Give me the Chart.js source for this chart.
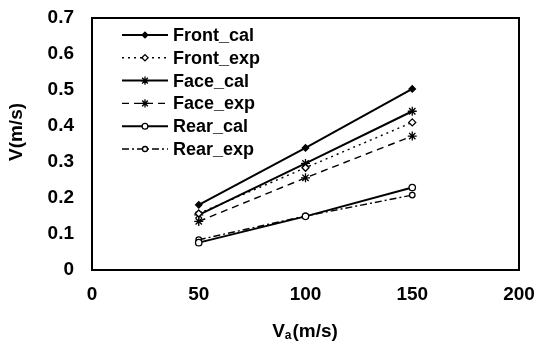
<!DOCTYPE html>
<html>
<head>
<meta charset="utf-8">
<script src="https://cdn.jsdelivr.net/npm/chart.js@4"></script>
<style>
html,body{margin:0;padding:0;background:#fff;}
#wrap{width:540px;height:342px;position:relative;}
</style>
</head>
<body>
<div id="wrap"><canvas id="c" width="540" height="342"></canvas></div>
<script>
const xValues = [50, 100, 150];
const frontCal = [0.181, 0.339, 0.503];
const frontExp = [0.157, 0.284, 0.410];
const faceCal = [0.153, 0.296, 0.441];
const faceExp = [0.135, 0.256, 0.372];
const rearCal = [0.076, 0.149, 0.229];
const rearExp = [0.084, 0.150, 0.208];
const seriesLabels = ['Front_cal', 'Front_exp', 'Face_cal', 'Face_exp', 'Rear_cal', 'Rear_exp'];
const xTicks = [0, 50, 100, 150, 200];
const yTicks = [0, 0.1, 0.2, 0.3, 0.4, 0.5, 0.6, 0.7];

const FONT = "'Liberation Sans', Arial, sans-serif";
const pts = arr => arr.map((v, i) => ({x: xValues[i], y: v}));

const styles = [
  {pointStyle:'rectRot', pointRadius:3.2, pointBackgroundColor:'#000', borderWidth:2, borderDash:[]},
  {pointStyle:'rectRot', pointRadius:3.5, pointBackgroundColor:'#fff', borderWidth:1.4, borderDash:[2,4]},
  {pointStyle:'star', pointRadius:4.5, pointBackgroundColor:'#fff', borderWidth:2, borderDash:[]},
  {pointStyle:'star', pointRadius:4.5, pointBackgroundColor:'#fff', borderWidth:1.4, borderDash:[7,5]},
  {pointStyle:'circle', pointRadius:3.2, pointBackgroundColor:'#fff', borderWidth:2, borderDash:[]},
  {pointStyle:'circle', pointRadius:2.8, pointBackgroundColor:'#fff', borderWidth:1.4, borderDash:[7,3,2,3]}
];
const seriesData = [frontCal, frontExp, faceCal, faceExp, rearCal, rearExp];

const datasets = seriesData.map((d, i) => Object.assign({
  label: seriesLabels[i],
  data: pts(d),
  borderColor: '#000',
  pointBorderColor: '#000',
  pointBorderWidth: 1.3,
  tension: 0,
  fill: false
}, styles[i]));

const framePlugin = {
  id: 'frame',
  afterDatasetsDraw(chart) {
    const {ctx, chartArea: a} = chart;
    ctx.save();
    ctx.strokeStyle = '#000';
    ctx.lineWidth = 2;
    ctx.strokeRect(a.left, a.top, a.right - a.left, a.bottom - a.top);
    ctx.restore();
  }
};

const titlesPlugin = {
  id: 'titles',
  afterDraw(chart) {
    const ctx = chart.ctx;
    ctx.save();
    ctx.fillStyle = '#000';
    ctx.translate(17, 132);
    ctx.rotate(-Math.PI / 2);
    ctx.font = 'bold 19px ' + FONT;
    ctx.textAlign = 'center';
    ctx.textBaseline = 'middle';
    ctx.fillText('V(m/s)', 0, 0);
    ctx.restore();
    ctx.save();
    ctx.fillStyle = '#000';
    ctx.textBaseline = 'alphabetic';
    ctx.textAlign = 'left';
    const big = 'bold 19px ' + FONT, small = 'bold 12px ' + FONT;
    ctx.font = big; const wV = ctx.measureText('V').width; const wR = ctx.measureText('(m/s)').width;
    ctx.font = small; const wA = ctx.measureText('a').width;
    const total = wV + wA + 1 + wR;
    let x = 305 - total / 2; const base = 337;
    ctx.font = big; ctx.fillText('V', x, base); x += wV;
    ctx.font = small; ctx.fillText('a', x, base + 2); x += wA + 1;
    ctx.font = big; ctx.fillText('(m/s)', x, base);
    ctx.restore();
  }
};

const legendPlugin = {
  id: 'customLegend',
  afterDraw(chart) {
    const ctx = chart.ctx;
    chart.data.datasets.forEach((ds, i) => {
      const y = 35 + i * 22.8;
      ctx.save();
      ctx.strokeStyle = '#000';
      ctx.lineWidth = ds.borderWidth;
      ctx.setLineDash(ds.borderDash || []);
      ctx.beginPath(); ctx.moveTo(122, y); ctx.lineTo(168, y); ctx.stroke();
      ctx.setLineDash([]);
      ctx.fillStyle = ds.pointBackgroundColor;
      ctx.strokeStyle = '#000';
      ctx.lineWidth = 1.3;
      Chart.helpers.drawPoint(ctx, {pointStyle: ds.pointStyle, radius: ds.pointRadius * 0.9, rotation: 0, borderWidth: 1.3}, 145, y);
      ctx.fillStyle = '#000';
      ctx.font = 'bold 18px ' + FONT;
      ctx.textAlign = 'left';
      ctx.textBaseline = 'middle';
      ctx.fillText(ds.label, 173, y + 1);
      ctx.restore();
    });
  }
};

new Chart(document.getElementById('c'), {
  type: 'line',
  data: {datasets},
  plugins: [framePlugin, titlesPlugin, legendPlugin],
  options: {
    responsive: false,
    animation: false,
    devicePixelRatio: 1,
    layout: {padding: {left: 0, right: 21, top: 18, bottom: 0}},
    plugins: {legend: {display: false}, tooltip: {enabled: false}},
    scales: {
      x: {
        type: 'linear', min: 0, max: 200,
        afterBuildTicks: s => { s.ticks = xTicks.map(v => ({value: v})); },
        afterFit: s => { s.height = 72; s.paddingLeft = 0; s.paddingRight = 0; },
        grid: {display: false, drawTicks: false},
        border: {display: false},
        ticks: {color: '#000', padding: 13, maxRotation: 0, font: {family: FONT, weight: 'bold', size: 19}}
      },
      y: {
        type: 'linear', min: 0, max: 0.7,
        afterBuildTicks: s => { s.ticks = yTicks.map(v => ({value: v})); },
        afterFit: s => { s.width = 92; s.paddingTop = 0; s.paddingBottom = 0; },
        grid: {display: false, drawTicks: false},
        border: {display: false},
        ticks: {color: '#000', padding: 18, font: {family: FONT, weight: 'bold', size: 19},
          callback: v => v === 0 ? '0' : v.toFixed(1)}
      }
    }
  }
});
</script>
</body>
</html>
